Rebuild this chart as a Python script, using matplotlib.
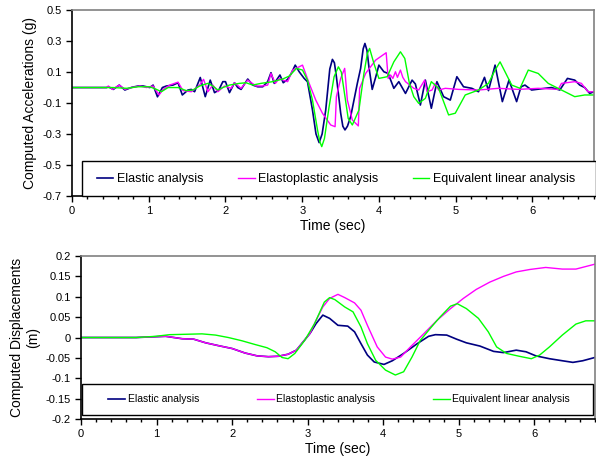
import matplotlib.pyplot as plt
from matplotlib.patches import Rectangle
from matplotlib.ticker import MultipleLocator

plt.rcParams['font.family'] = ['Liberation Sans', 'DejaVu Sans']
plt.rcParams['axes.unicode_minus'] = False

labels = ['Elastic analysis', 'Elastoplastic analysis', 'Equivalent linear analysis']
colors = ['#000080', '#FF00FF', '#00FF00']

# accelerations (g)
t_acc_el = [0, 0.45, 0.472, 0.537, 0.615, 0.688, 0.775, 0.861, 0.926, 1.013, 1.056, 1.113, 1.177, 1.229,
            1.316, 1.381, 1.437, 1.511, 1.554, 1.597, 1.671, 1.736, 1.801, 1.857, 1.913, 1.965, 2.0,
            2.052, 2.117, 2.16, 2.203, 2.29, 2.355, 2.42, 2.485, 2.55, 2.593, 2.636, 2.71, 2.753, 2.81,
            2.853, 2.909, 2.961, 3.026, 3.069, 3.134, 3.18, 3.221, 3.26, 3.307, 3.36, 3.394, 3.42, 3.446,
            3.502, 3.53, 3.558, 3.59, 3.632, 3.719, 3.762, 3.795, 3.818, 3.845, 3.87, 3.913, 3.96, 4.0,
            4.065, 4.121, 4.195, 4.26, 4.347, 4.433, 4.476,
            4.541, 4.606, 4.684, 4.757, 4.844, 4.931, 5.017, 5.104, 5.212, 5.299, 5.377, 5.429, 5.515,
            5.61, 5.697, 5.796, 5.853, 5.905, 5.991, 6.165, 6.251, 6.359, 6.459, 6.554, 6.619, 6.684,
            6.749, 6.805]
acc_el = [0, 0, 0.005, -0.012, 0.016, -0.016, 0.001, 0.01, 0.01, 0.0, 0.016, -0.06, 0.0, 0.01,
          0.016, 0.031, -0.048, -0.016, -0.012, -0.027, 0.065, -0.059, 0.048, -0.033, -0.016, 0.038, 0.038,
          -0.033, 0.031, 0.0, -0.012, 0.055, 0.016, 0.005, 0.005, 0.038, 0.096, 0.027, 0.081, 0.031, 0.053,
          0.087, 0.145, 0.102, 0.059, 0.038, -0.145, -0.3, -0.356, -0.3, -0.145, 0.12, 0.182, 0.16, 0.07,
          -0.166, -0.25, -0.274, -0.25, -0.188, 0.027, 0.124, 0.25, 0.285, 0.24, 0.134, -0.012, 0.07, 0.145,
          0.102, 0.091, -0.005, 0.038, -0.038, 0.048, 0.023,
          -0.113, 0.048, -0.134, 0.038, -0.059, -0.081, 0.07, 0.005, -0.005, -0.027, 0.066, -0.02, 0.145,
          -0.091, 0.048, -0.091, 0.005, 0.016, -0.016, -0.005, 0.0, -0.016, 0.059, 0.048, 0.016, 0.0,
          -0.038, -0.027]

t_acc_ep = [0, 0.45, 0.472, 0.528, 0.615, 0.688, 0.775, 0.883, 0.97, 1.056, 1.134, 1.186, 1.273, 1.381,
            1.446, 1.554, 1.662, 1.714, 1.771, 1.835, 1.9, 1.987, 2.074, 2.117, 2.203, 2.29, 2.398,
            2.485, 2.55, 2.593, 2.65, 2.701, 2.753, 2.81, 2.875, 3.004, 3.091, 3.177, 3.264, 3.372,
            3.429, 3.446, 3.502, 3.554, 3.589, 3.654, 3.732, 3.749, 3.827, 3.957, 4.095, 4.121, 4.152,
            4.182, 4.216, 4.242, 4.281, 4.312, 4.347, 4.455, 4.519, 4.597, 4.628, 4.693, 4.736, 4.779,
            4.866, 5.039, 5.299, 5.558, 5.818, 6.078, 6.338, 6.381, 6.554, 6.641, 6.727, 6.805]
acc_ep = [0, 0, 0.01, -0.012, 0.016, -0.012, 0.0, 0.01, 0.0, 0.01, -0.048, -0.012, 0.016, 0.035,
          -0.02, -0.027, 0.016, 0.053, -0.027, 0.016, -0.027, 0.01, -0.005, 0.031, -0.005, 0.048, 0.01,
          0.01, 0.016, 0.091, 0.027, 0.059, 0.048, 0.038, 0.113, 0.145, 0.027, -0.081, -0.166, -0.242,
          -0.253, -0.059, 0.059, 0.124, -0.081, -0.21, -0.248, -0.005, 0.091, 0.177, 0.225, 0.059, 0.081,
          0.059, 0.102, 0.066, 0.113, 0.066, 0.038, -0.005, -0.016, 0.048, -0.027, -0.016, 0.027, -0.016,
          -0.005, -0.012, -0.016, -0.005, -0.012, -0.005, -0.012, 0.027, 0.038, 0.027, -0.027, -0.027]

t_acc_eq = [0, 0.45, 0.537, 0.71, 0.861, 1.013, 1.1, 1.164, 1.251, 1.381, 1.489, 1.576, 1.662, 1.771,
            1.835, 1.9, 1.965, 2.052, 2.182, 2.268, 2.355, 2.463, 2.615, 2.745, 2.831, 2.926, 3.004,
            3.069, 3.134, 3.2, 3.23, 3.255, 3.29, 3.351, 3.416, 3.472, 3.51, 3.545, 3.6, 3.654, 3.74,
            3.805, 3.85, 3.879, 3.935, 4.0, 4.108, 4.195, 4.281, 4.338, 4.398, 4.455, 4.519, 4.606,
            4.684, 4.779, 4.909, 4.996, 5.126, 5.299, 5.429, 5.515, 5.58, 5.645, 5.732, 5.84, 5.948,
            6.078, 6.208, 6.381, 6.554, 6.684, 6.805]
acc_eq = [0, 0, 0.0, -0.005, 0.005, 0.005, -0.012, -0.027, 0.0, 0.0, -0.02, -0.016, 0.01, 0.027,
          0.01, -0.016, 0.0, 0.016, 0.027, 0.031, 0.016, 0.027, 0.038, 0.055, 0.074, 0.124, 0.113,
          0.048, -0.081, -0.274, -0.35, -0.382, -0.33, -0.124, 0.07, 0.134, 0.1, -0.016, -0.2, -0.242,
          -0.145, 0.091, 0.22, 0.253, 0.156, 0.059, 0.07, 0.166, 0.231, 0.188, 0.027, -0.059, -0.102,
          -0.07, 0.038, -0.005, -0.177, -0.166, -0.048, -0.016, 0.027, 0.113, 0.166, 0.102, 0.016,
          -0.005, 0.113, 0.091, 0.027, -0.016, -0.059, -0.048, -0.048]

# displacements (m)
t_dis_el = [0, 0.73, 0.99, 1.12, 1.23, 1.34, 1.49, 1.65, 1.82, 2.0, 2.17, 2.33, 2.48, 2.61, 2.74, 2.85,
            3.03, 3.11, 3.2, 3.29, 3.4, 3.53, 3.62, 3.705, 3.79, 3.88, 4.01, 4.12, 4.27, 4.45, 4.6,
            4.69, 4.84, 4.97, 5.1, 5.28, 5.46, 5.59, 5.76, 5.89, 6.02, 6.2, 6.37, 6.51, 6.64, 6.8]
dis_el = [0, 0, 0.002, 0.003, 0.0, -0.003, -0.004, -0.013, -0.02, -0.027, -0.038, -0.045, -0.047, -0.046,
          -0.041, -0.031, 0.01, 0.034, 0.055, 0.047, 0.03, 0.028, 0.014, -0.015, -0.043, -0.06, -0.066,
          -0.057, -0.039, -0.015, 0.003, 0.007, 0.006, -0.004, -0.013, -0.021, -0.034, -0.037, -0.031,
          -0.035, -0.045, -0.052, -0.057, -0.061, -0.057, -0.049]

t_dis_ep = [0, 0.73, 0.99, 1.12, 1.23, 1.34, 1.49, 1.65, 1.82, 2.0, 2.17, 2.33, 2.48, 2.61, 2.74, 2.85,
            3.03, 3.11, 3.2, 3.29, 3.4, 3.49, 3.62, 3.705, 3.79, 3.92, 4.03, 4.12, 4.23, 4.36, 4.54,
            4.71, 4.89, 5.06, 5.23, 5.41, 5.59, 5.76, 5.94, 6.15, 6.37, 6.55, 6.8]
dis_ep = [0, 0, 0.002, 0.003, 0.0, -0.003, -0.004, -0.013, -0.02, -0.027, -0.038, -0.045, -0.047, -0.046,
          -0.041, -0.031, 0.01, 0.042, 0.075, 0.096, 0.106, 0.098, 0.085, 0.067, 0.03, -0.023, -0.048,
          -0.053, -0.048, -0.023, 0.01, 0.042, 0.071, 0.096, 0.118, 0.136, 0.15, 0.161, 0.167, 0.172,
          0.168, 0.168, 0.18]

t_dis_eq = [0, 0.73, 0.99, 1.17, 1.39, 1.6, 1.78, 1.95, 2.13, 2.3, 2.46, 2.57, 2.66, 2.74, 2.83, 2.96,
            3.09, 3.22, 3.29, 3.36, 3.49, 3.6, 3.705, 3.79, 3.9, 4.03, 4.16, 4.27, 4.38, 4.49, 4.62,
            4.75, 4.89, 4.98, 5.1, 5.26, 5.39, 5.5, 5.63, 5.8, 5.96, 6.07, 6.2, 6.37, 6.55, 6.68, 6.8]
dis_eq = [0, 0, 0.003, 0.007, 0.008, 0.009, 0.006, 0.0, -0.008, -0.017, -0.025, -0.035, -0.049, -0.052,
          -0.039, -0.007, 0.034, 0.087, 0.098, 0.093, 0.075, 0.063, 0.026, -0.015, -0.056, -0.08, -0.092,
          -0.084, -0.048, -0.007, 0.022, 0.05, 0.077, 0.083, 0.071, 0.047, 0.014, -0.023, -0.039, -0.046,
          -0.052, -0.043, -0.023, 0.006, 0.033, 0.041, 0.041]

acc_ticks = [-0.7, -0.5, -0.3, -0.1, 0.1, 0.3, 0.5]
dis_ticks = [-0.2, -0.15, -0.1, -0.05, 0, 0.05, 0.1, 0.15, 0.2]


def style_axes(ax):
    ax.spines['top'].set_color('#808080')
    ax.spines['right'].set_color('#808080')
    ax.spines['left'].set_color('black')
    ax.spines['bottom'].set_color('black')
    for s in ax.spines.values():
        s.set_linewidth(1.2)
    ax.set_xlim(0, 6.8)
    ax.xaxis.set_major_locator(MultipleLocator(1))
    ax.xaxis.set_minor_locator(MultipleLocator(0.2))
    ax.tick_params(axis='both', which='major', direction='out', length=4, width=1, labelsize=8)
    ax.tick_params(axis='x', which='minor', direction='out', length=2.5, width=1)
    ax.set_xlabel('Time (sec)', fontsize=10, labelpad=2)


def boxed_legend(ax, box, anchor, fs, hl):
    # box drawn by hand so the text can sit well inside it
    ax.add_patch(Rectangle((box[0], box[1]), box[2], box[3], transform=ax.transAxes,
                           facecolor='white', edgecolor='black', lw=1.0, zorder=5, clip_on=False))
    leg = ax.legend(loc='center', bbox_to_anchor=anchor, mode='expand', ncol=3, fontsize=fs,
                    frameon=False, handlelength=hl, handletextpad=0.25, borderpad=0,
                    borderaxespad=0)
    leg.set_zorder(6)
    return leg


fig = plt.figure(figsize=(5.96, 4.63), dpi=100)

ax1 = fig.add_axes([0.121, 0.577, 0.875, 0.401])
ax1.plot(t_acc_el, acc_el, color=colors[0], lw=1.2, label=labels[0], solid_joinstyle='round')
ax1.plot(t_acc_ep, acc_ep, color=colors[1], lw=1.0, label=labels[1], solid_joinstyle='round')
ax1.plot(t_acc_eq, acc_eq, color=colors[2], lw=1.0, label=labels[2], solid_joinstyle='round')
ax1.set_ylim(-0.7, 0.5)
ax1.set_yticks(acc_ticks)
ax1.set_yticklabels(['%g' % v for v in acc_ticks])
ax1.set_ylabel('Computed Accelerations (g)', fontsize=10)
style_axes(ax1)
boxed_legend(ax1, (0.019, 0.0, 0.985, 0.188), (0.048, 0.0, 0.916, 0.182), 9, 1.3)

ax2 = fig.add_axes([0.136, 0.095, 0.862, 0.352])
ax2.plot(t_dis_el, dis_el, color=colors[0], lw=1.2, label=labels[0], solid_joinstyle='round')
ax2.plot(t_dis_ep, dis_ep, color=colors[1], lw=1.0, label=labels[1], solid_joinstyle='round')
ax2.plot(t_dis_eq, dis_eq, color=colors[2], lw=1.0, label=labels[2], solid_joinstyle='round')
ax2.set_ylim(-0.2, 0.2)
ax2.set_yticks(dis_ticks)
ax2.set_yticklabels(['%g' % v for v in dis_ticks])
ax2.set_ylabel('Computed Displacements\n(m)', fontsize=10)
style_axes(ax2)
boxed_legend(ax2, (0.002, 0.025, 0.994, 0.19), (0.053, 0.025, 0.899, 0.19), 7.5, 1.6)

fig.savefig('out.png', dpi=100)
